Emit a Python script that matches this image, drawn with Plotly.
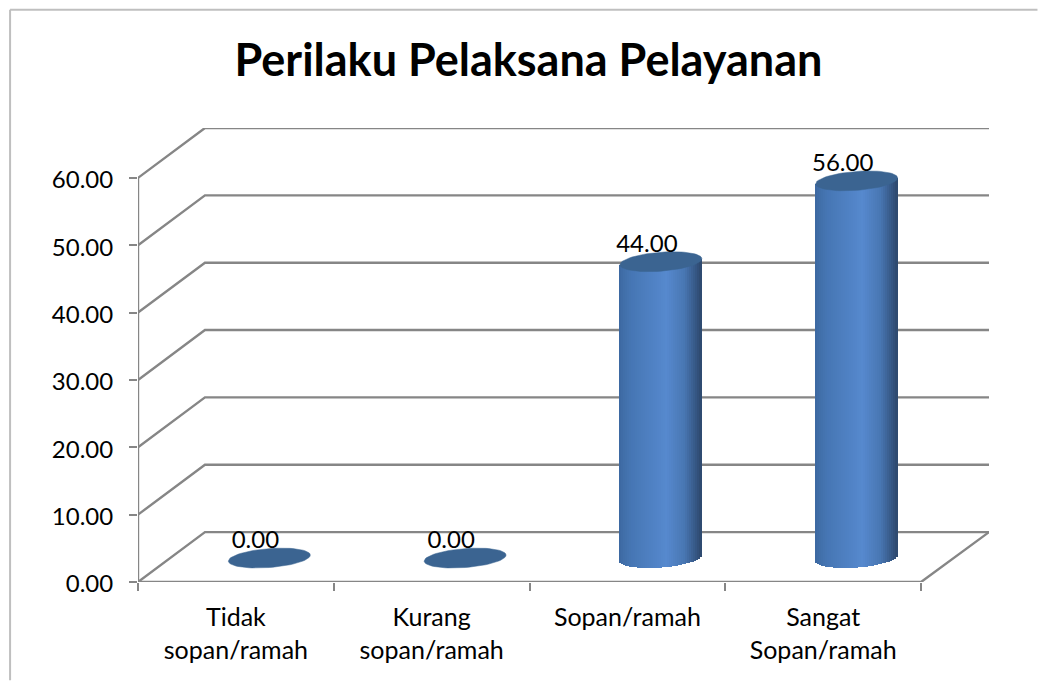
import numpy as np
import plotly.graph_objects as go

# --- data ---
categories = ["Tidak<br>sopan/ramah", "Kurang<br>sopan/ramah", "Sopan/ramah", "Sangat<br>Sopan/ramah"]
values = [0.0, 0.0, 44.0, 56.0]
value_labels = ["0.00", "0.00", "44.00", "56.00"]
y_ticks = [0, 10, 20, 30, 40, 50, 60]
title_text = "Perilaku Pelaksana Pelayanan"

# --- layout geometry (pixels) ---
W, H = 1038, 681
L, R, T, B = 138, 989.5, 127.5, 582.5    # plot box
FRONT_R = 921.5
Y60 = 177.5
PX_X = (FRONT_R - L) / len(categories)   # px per category
PX_Y = (B - Y60) / 60.0                  # px per value unit
DEPTH_X = 67 / PX_X                      # back wall offset, data units
DEPTH_Y = 50 / PX_Y
x_rng = [-0.5, -0.5 + (R - L) / PX_X]
y_rng = [0, (B - T) / PX_Y]
x_pos = list(range(len(categories)))
edges = [i - 0.5 for i in range(len(categories) + 1)]

GRID = "#868686"
TEXT = "#000000"
FONT = "Lato"
TOP = "#3b6491"

# cylinder shape
A, E, K = 41.0, 9.5, 3.0        # semi-axes and tilt, pixels
cx = [x + 0.5 * DEPTH_X for x in x_pos]
cy0 = 0.5 * DEPTH_Y - 1 / PX_Y

# horizontal shading across a cylinder
stops_u = [0.0, 0.05, 0.15, 0.58, 0.80, 0.93, 1.0]
stops_rgb = [(60, 104, 160), (64, 110, 168), (70, 118, 180), (86, 137, 206),
             (72, 118, 178), (54, 88, 134), (46, 72, 108)]
N = 41

fig = go.Figure()
for i in range(N):
    u = (i + 0.5) / N
    rgb = [np.interp(u, stops_u, [s[c] for s in stops_rgb]) for c in range(3)]
    colour = "rgb(%d,%d,%d)" % tuple(int(round(c)) for c in rgb)
    s = 2 * u - 1                      # -1 .. 1 across the cylinder
    off_px = s * A
    # lower rim of the tilted ellipse at this slice; the top follows the tilt too
    half_px = E * np.sqrt(max(0.0, 1 - s * s))
    tilt_px = K * s
    xs = [c + off_px / PX_X for c in cx]
    bases = [cy0 + (tilt_px - half_px) / PX_Y] * len(values)
    heights = [v + half_px / PX_Y if v > 0 else 0 for v in values]
    fig.add_trace(go.Bar(
        x=xs, y=heights, base=bases, width=(2 * A / N + 1) / PX_X,
        marker=dict(color=colour, line=dict(width=0)),
        showlegend=False, hoverinfo="skip"))

# top faces
t = np.linspace(0, 2 * np.pi, 73)
for c, v in zip(cx, values):
    fig.add_trace(go.Scatter(
        x=c + A * np.cos(t) / PX_X,
        y=v + cy0 + (E * np.sin(t) + K * np.cos(t)) / PX_Y,
        mode="lines", fill="toself", fillcolor=TOP,
        line=dict(color=TOP, width=0.5),
        showlegend=False, hoverinfo="skip"))

# data labels
fig.add_trace(go.Scatter(
    x=[c - 14 / PX_X for c in cx],
    y=[v + cy0 + 16 / PX_Y for v in values],
    mode="text", text=value_labels, textposition="middle center",
    textfont=dict(family=FONT, size=24, color=TEXT),
    cliponaxis=False, showlegend=False, hoverinfo="skip"))

# walls drawn behind the cylinders
shapes = []
def path(points, colour=GRID, width=2.4):
    d = "M " + " L ".join("%.5f,%.5f" % p for p in points)
    return dict(type="path", path=d, xref="x", yref="y", layer="below",
                line=dict(color=colour, width=width), fillcolor="rgba(0,0,0,0)")

for v in y_ticks:
    shapes.append(path([(edges[0], v), (edges[0] + DEPTH_X, v + DEPTH_Y), (x_rng[1], v + DEPTH_Y)]))
shapes.append(path([(edges[0], y_ticks[-1]), (edges[0], 0), (edges[-1], 0), (x_rng[1], DEPTH_Y)]))

# chart frame (only the top and left edges show in the picture)
frame = "#bfbfbf"
fx = lambda px: (px - L) / (R - L)
fy = lambda py: (B - py) / (B - T)
shapes.append(dict(type="line", xref="paper", yref="paper", x0=fx(10), x1=fx(10), y0=fy(H), y1=fy(9),
                   line=dict(color=frame, width=2)))
shapes.append(dict(type="line", xref="paper", yref="paper", x0=fx(10), x1=fx(W), y0=fy(9), y1=fy(9),
                   line=dict(color=frame, width=2)))

fig.update_layout(
    width=W, height=H, autosize=False,
    margin=dict(l=L, r=W - R, t=T, b=H - B, pad=0),
    paper_bgcolor="white", plot_bgcolor="white",
    barmode="overlay", bargap=0, showlegend=False,
    shapes=shapes,
    title=dict(text="<b>" + title_text + "</b>", x=(236 + 821) / 2 / W, xanchor="center",
               y=1 - 60 / H, yanchor="middle",
               font=dict(family=FONT, size=45, color=TEXT)),
    xaxis=dict(range=x_rng, tickmode="array", tickvals=x_pos, ticktext=categories,
               ticks="", showgrid=False, zeroline=False, showline=False,
               ticklabelstandoff=18,
               tickfont=dict(family=FONT, size=25, color=TEXT),
               minor=dict(tickmode="array", tickvals=edges, ticks="outside", ticklen=8,
                          tickwidth=2, tickcolor=GRID, showgrid=False),
               fixedrange=True),
    yaxis=dict(range=y_rng, tickmode="array", tickvals=y_ticks, tickformat=".2f",
               ticks="outside", ticklen=8, tickwidth=2, tickcolor=GRID,
               showgrid=False, zeroline=False, showline=False,
               ticklabelstandoff=11, ticklabelshift=2,
               tickfont=dict(family=FONT, size=24, color=TEXT),
               fixedrange=True),
)

fig.write_html("out.html", config={"displayModeBar": False},
               post_script="document.body.style.margin='0';document.body.style.overflow='hidden';")
